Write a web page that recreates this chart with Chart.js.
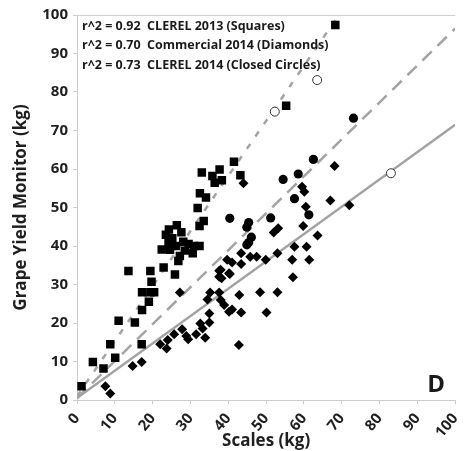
<!DOCTYPE html>
<html><head><meta charset="utf-8">
<script src="https://cdn.jsdelivr.net/npm/chart.js@4.4.1/dist/chart.umd.min.js"></script>
<style>html,body{margin:0;padding:0;background:#fff;}#wrap{width:475px;height:451px;}</style>
</head><body><div id="wrap"><canvas id="c" width="475" height="451"></canvas></div>
<script>
// CLEREL 2013 (Squares)
const squaresX = [1.2,4.2,7.0,8.8,10.1,11.0,13.6,15.3,17.1,17.2,17.2,19.0,19.4,20.4,19.7,19.4,22.9,25.9,26.8,27.2,22.4,24.6,24.2,26.1,28.1,29.5,30.9,32.4,30.6,23.5,24.3,26.4,27.6,32.4,33.5,31.9,32.5,34.1,33.0,35.8,37.7,36.4,38.3,41.5,43.2,55.3,68.3,28.5,25.2];
const squaresY = [3.6,9.9,8.2,14.5,11.0,20.6,33.5,20.1,14.5,23.4,28.0,25.5,28.0,28.0,30.7,33.5,34.4,32.6,36.1,37.4,39.1,39.0,40.7,40.0,41.1,40.5,40.0,40.0,38.1,42.9,44.3,45.4,43.6,45.2,46.5,49.9,53.7,52.6,59.1,58.2,59.9,56.4,57.1,61.9,58.4,76.4,97.4,38.8,42.0];
// Commercial 2014 (Diamonds)
const diamondsX = [7.5,8.8,14.7,17.1,22.0,23.7,24.0,25.7,27.8,28.9,29.4,31.5,32.6,33.2,33.9,35.0,35.0,34.5,35.2,27.2,37.6,38.0,38.9,40.2,41.0,43.4,42.9,42.8,48.4,50.1,53.0,37.6,38.2,40.4,37.6,38.0,40.2,39.7,41.0,43.4,43.4,45.8,47.5,49.9,53.0,56.9,61.4,57.5,60.7,63.6,52.0,53.2,59.8,60.5,67.0,72.0,59.5,60.1,68.1,44.0,57.1];
const diamondsY = [3.6,1.7,8.8,9.9,14.5,13.4,15.6,17.1,18.4,16.6,15.8,17.1,19.9,18.6,16.2,20.1,22.5,26.1,27.9,27.9,27.9,26.0,24.7,22.9,23.5,22.7,27.3,14.3,28.0,22.7,28.0,33.6,31.6,32.7,32.0,33.8,32.9,36.4,35.7,35.3,38.1,37.2,37.2,36.4,38.1,36.4,36.4,39.8,39.8,42.7,43.5,44.6,45.2,50.2,51.8,50.6,55.4,54.1,60.8,56.3,31.9];
// CLEREL 2014 (Closed Circles)
const circlesX = [40.4,45.4,44.9,46.1,45.4,44.9,51.2,54.5,58.5,57.5,61.3,62.5,73.1];
const circlesY = [47.2,46.1,44.9,42.3,40.9,40.3,47.3,57.3,58.7,52.3,48.1,62.5,73.2];
// open circles
const openX = [52.3,63.5,83.0];
const openY = [74.9,83.1,58.9];
// regression lines: squares, diamonds, circles
const fitSlopes = [1.43, 0.71, 0.96];
const fitIntercepts = [1.0, 0.5, 0.5];
const legendLines = [
  'r^2 = 0.92  CLEREL 2013 (Squares)',
  'r^2 = 0.70  Commercial 2014 (Diamonds)',
  'r^2 = 0.73  CLEREL 2014 (Closed Circles)'
];
const panelLetter = 'D';
const xTitle = 'Scales (kg)';
const yTitle = 'Grape Yield Monitor (kg)';

const FONT = '"Open Sans", "DejaVu Sans", sans-serif';
const pts = (xs, ys) => xs.map((x, i) => ({x, y: ys[i]}));
const fitLine = (k) => {
  const m = fitSlopes[k], b = fitIntercepts[k];
  const xEnd = Math.min(100, (100 - b) / m);
  return [{x: 0, y: b}, {x: xEnd, y: m * xEnd + b}];
};

const annot = {
  id: 'annot',
  afterDraw(chart) {
    const {ctx, chartArea: a} = chart;
    ctx.save();
    ctx.strokeStyle = '#cfcfcf'; ctx.lineWidth = 1;
    ctx.beginPath(); ctx.moveTo(a.left, a.top + 0.5); ctx.lineTo(a.right, a.top + 0.5); ctx.stroke();
    ctx.fillStyle = '#1a1a1a';
    ctx.font = 'bold 12.5px ' + FONT;
    ctx.textBaseline = 'middle'; ctx.textAlign = 'left';
    legendLines.forEach((t, i) => ctx.fillText(t, a.left + 5, a.top + 11 + i * 19.5));
    ctx.font = 'bold 24px ' + FONT;
    ctx.textAlign = 'center'; ctx.textBaseline = 'alphabetic';
    ctx.fillText(panelLetter, a.right - 19, a.bottom - 8);
    ctx.restore();
  }
};

const lineGray = '#a3a3a3';
new Chart(document.getElementById('c'), {
  type: 'scatter',
  data: {
    datasets: [
      {data: pts(squaresX, squaresY), pointStyle: 'rect', pointRadius: 6, backgroundColor: '#000', borderColor: '#000', borderWidth: 0, order: 1},
      {data: pts(diamondsX, diamondsY), pointStyle: 'rectRot', pointRadius: 5, backgroundColor: '#000', borderColor: '#000', borderWidth: 0, order: 1},
      {data: pts(circlesX, circlesY), pointStyle: 'circle', pointRadius: 4.6, backgroundColor: '#000', borderColor: '#000', borderWidth: 0, order: 1},
      {data: pts(openX, openY), pointStyle: 'circle', pointRadius: 4.5, backgroundColor: '#fff', borderColor: '#333', borderWidth: 1, order: 1},
      {type: 'line', data: fitLine(0), borderColor: lineGray, borderWidth: 2.5, borderDash: [6, 9], pointRadius: 0, fill: false, order: 5},
      {type: 'line', data: fitLine(1), borderColor: lineGray, borderWidth: 2.5, pointRadius: 0, fill: false, order: 5},
      {type: 'line', data: fitLine(2), borderColor: lineGray, borderWidth: 2.5, borderDash: [13, 8], pointRadius: 0, fill: false, order: 5}
    ]
  },
  options: {
    responsive: false,
    animation: false,
    layout: {padding: {top: 15, right: 13, left: 0, bottom: 0}},
    plugins: {legend: {display: false}, tooltip: {enabled: false}},
    scales: {
      x: {
        type: 'linear', min: 0, max: 100,
        afterFit(s) { s.height = 51; },
        border: {color: '#cccccc', width: 1},
        grid: {drawOnChartArea: false, color: '#cccccc', tickLength: 4},
        ticks: {stepSize: 5, padding: 6, color: '#1f1f1f', font: {family: FONT, size: 15, weight: 'bold'},
          callback: v => (v % 10 === 0 ? String(v) : '')},
        title: {display: true, text: xTitle, color: '#1f1f1f', font: {family: FONT, size: 17, weight: 'bold'}, padding: {top: 7, bottom: 0}}
      },
      y: {
        type: 'linear', min: 0, max: 100,
        afterFit(s) { s.width = 77; },
        border: {color: '#cccccc', width: 1},
        grid: {drawOnChartArea: false, color: '#cccccc', tickLength: 4},
        ticks: {stepSize: 10, padding: 5, color: '#1f1f1f', font: {family: FONT, size: 15, weight: 'bold'}},
        title: {display: true, text: yTitle, color: '#1f1f1f', font: {family: FONT, size: 17, weight: 'bold'}, padding: {top: 11, bottom: 0}}
      }
    }
  },
  plugins: [annot]
});
</script></body></html>
